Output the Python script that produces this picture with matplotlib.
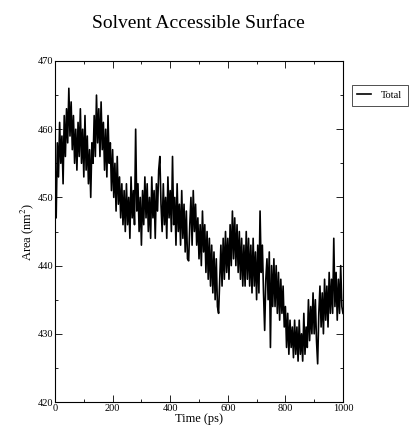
import numpy as np
import matplotlib
matplotlib.use("Agg")
import matplotlib.pyplot as plt
from matplotlib.ticker import MultipleLocator

# Total SASA of the protein over the trajectory, sampled every 4 ps
time_step_ps = 4
area_nm2 = [
    455, 447, 458, 453, 461, 455, 459, 452, 462, 456,
    463, 458, 466, 459, 464, 457, 462, 455, 460, 454,
    461, 456, 463, 455, 460, 453, 462, 454, 459, 452,
    457, 450, 458, 455, 462, 456, 465, 458, 463, 456,
    464, 457, 461, 454, 460, 453, 462, 455, 458, 451,
    457, 450, 455, 448, 456, 449, 453, 447, 452, 446,
    451, 445, 452, 446, 450, 444, 453, 447, 451, 446,
    460, 448, 452, 445, 450, 443, 451, 446, 453, 447,
    452, 445, 450, 444, 453, 447, 451, 444, 452, 448,
    454, 456, 449, 445, 452, 446, 450, 444, 453, 447,
    451, 445, 456, 446, 450, 443, 452, 445, 449, 443,
    451, 444, 449, 442, 448, 441, 440.7, 446, 450, 443,
    451, 445, 449, 443, 447, 441, 446, 440, 448, 442,
    446, 439, 445, 438, 444, 437, 443, 436, 442, 435,
    441, 434, 433, 438, 443, 437, 444, 438, 445, 439,
    444, 438, 446, 440, 448, 441, 447, 440, 446, 439,
    445, 438, 444, 437, 443, 437, 445, 438, 444, 437,
    443, 436, 444, 437, 442, 435, 443, 436, 448, 439,
    443, 436, 430.5, 438, 441, 435, 442, 428, 440, 434,
    441, 434, 440, 433, 439, 432, 438, 433, 437, 431,
    434, 428, 433, 427, 432, 428, 431, 426.5, 432, 427,
    431, 426, 432, 427, 430, 426, 433, 427, 431, 428,
    435, 429, 434, 430, 436, 430, 435, 429, 425.6, 433,
    437, 431, 436, 430, 438, 432, 437, 431, 439, 433,
    438, 433, 444, 434, 439, 432, 438, 433, 440, 434,
    433,
]
time_ps = np.arange(len(area_nm2)) * time_step_ps

title = "Solvent Accessible Surface"
xlabel = "Time (ps)"
ylabel = "Area (nm$^2$)"
series_label = "Total"

plt.rcParams["font.family"] = ["Liberation Serif", "DejaVu Serif"]
plt.rcParams["mathtext.fontset"] = "stix"

fig = plt.figure(figsize=(4.14, 4.32), dpi=100)
ax = fig.add_axes([0.1329, 0.0694, 0.6956, 0.7894])

ax.plot(time_ps, area_nm2, color="black", linewidth=1.2, label=series_label)

ax.set_xlim(0, 1000)
ax.set_ylim(420, 470)
ax.xaxis.set_major_locator(MultipleLocator(200))
ax.xaxis.set_minor_locator(MultipleLocator(100))
ax.yaxis.set_major_locator(MultipleLocator(10))
ax.yaxis.set_minor_locator(MultipleLocator(5))
ax.tick_params(which="both", direction="in", top=True, right=True,
               width=0.6, labelsize=7.5, pad=1.5)
ax.tick_params(which="major", length=5)
ax.tick_params(which="minor", length=2.5)
for sp in ax.spines.values():
    sp.set_linewidth(0.8)

ax.set_xlabel(xlabel, fontsize=9, labelpad=0)
ax.set_ylabel(ylabel, fontsize=9, labelpad=1)
fig.text(0.48, 0.945, title, ha="center", va="center", fontsize=14)

leg = ax.legend(loc="upper left", bbox_to_anchor=(1.03, 0.93), fontsize=7.5,
                frameon=True, fancybox=False, handlelength=1.3,
                borderpad=0.55, handletextpad=1.0, borderaxespad=0)
leg.get_frame().set_edgecolor("black")
leg.get_frame().set_linewidth(0.6)

fig.savefig("out.png", dpi=100)
